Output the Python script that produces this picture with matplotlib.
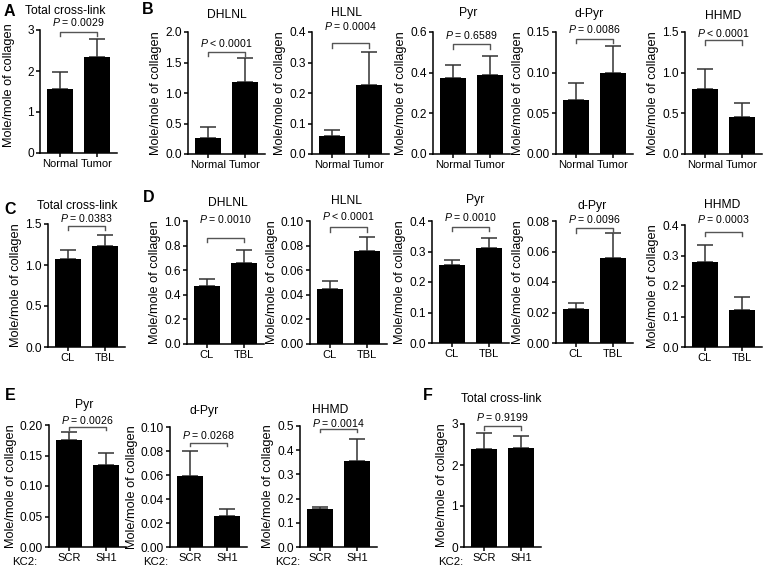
import numpy as np
import matplotlib
matplotlib.use("Agg")
import matplotlib.pyplot as plt
import matplotlib.transforms as mtransforms
from matplotlib.ticker import FixedLocator, FormatStrFormatter

plt.rcParams['font.family'] = ['Liberation Sans', 'DejaVu Sans']
plt.rcParams['mathtext.fontset'] = 'custom'
plt.rcParams['mathtext.it'] = 'Liberation Sans:italic'
plt.rcParams['mathtext.rm'] = 'Liberation Sans'

# ---------------- data ----------------
tumor_groups = ["Normal", "Tumor"]
tbl_groups = ["CL", "TBL"]
kc2_groups = ["SCR", "SH1"]

# Panel A: total cross-link (normal vs tumor)
a_total_mean = [1.55, 2.35]
a_total_err = [0.42, 0.42]
a_ticks = [0, 1, 2, 3]

# Panel B (normal vs tumor)
b_dhlnl_mean = [0.26, 1.18]
b_dhlnl_err = [0.19, 0.40]
b_dhlnl_ticks = [0.0, 0.5, 1.0, 1.5, 2.0]
b_hlnl_mean = [0.060, 0.225]
b_hlnl_err = [0.018, 0.110]
b_hlnl_ticks = [0.0, 0.1, 0.2, 0.3, 0.4]
b_pyr_mean = [0.375, 0.390]
b_pyr_err = [0.065, 0.090]
b_pyr_ticks = [0.0, 0.2, 0.4, 0.6]
b_dpyr_mean = [0.066, 0.100]
b_dpyr_err = [0.021, 0.033]
b_dpyr_ticks = [0.00, 0.05, 0.10, 0.15]
b_hhmd_mean = [0.80, 0.46]
b_hhmd_err = [0.24, 0.17]
b_hhmd_ticks = [0.0, 0.5, 1.0, 1.5]

# Panel C: total cross-link (CL vs TBL)
c_total_mean = [1.07, 1.23]
c_total_err = [0.11, 0.14]
c_ticks = [0.0, 0.5, 1.0, 1.5]

# Panel D (CL vs TBL)
d_dhlnl_mean = [0.47, 0.66]
d_dhlnl_err = [0.06, 0.105]
d_dhlnl_ticks = [0.0, 0.2, 0.4, 0.6, 0.8, 1.0]
d_hlnl_mean = [0.045, 0.0755]
d_hlnl_err = [0.006, 0.0115]
d_hlnl_ticks = [0.00, 0.02, 0.04, 0.06, 0.08, 0.10]
d_pyr_mean = [0.255, 0.310]
d_pyr_err = [0.017, 0.035]
d_pyr_ticks = [0.0, 0.1, 0.2, 0.3, 0.4]
d_dpyr_mean = [0.022, 0.056]
d_dpyr_err = [0.004, 0.016]
d_dpyr_ticks = [0.00, 0.02, 0.04, 0.06, 0.08]
d_hhmd_mean = [0.278, 0.122]
d_hhmd_err = [0.057, 0.043]
d_hhmd_ticks = [0.0, 0.1, 0.2, 0.3, 0.4]

# Panel E (KC2: SCR vs SH1)
e_pyr_mean = [0.175, 0.135]
e_pyr_err = [0.013, 0.019]
e_pyr_ticks = [0.00, 0.05, 0.10, 0.15, 0.20]
e_dpyr_mean = [0.059, 0.026]
e_dpyr_err = [0.021, 0.006]
e_dpyr_ticks = [0.00, 0.02, 0.04, 0.06, 0.08, 0.10]
e_hhmd_mean = [0.155, 0.355]
e_hhmd_err = [0.010, 0.092]
e_hhmd_ticks = [0.0, 0.1, 0.2, 0.3, 0.4, 0.5]

# Panel F: total cross-link (KC2: SCR vs SH1)
f_total_mean = [2.40, 2.42]
f_total_err = [0.38, 0.28]
f_ticks = [0, 1, 2, 3]

# ---------------- layout (pixels) ----------------
W, H = 767, 570
AX_W = 77
fig = plt.figure(figsize=(W / 100, H / 100), dpi=100)

panels = [
    dict(l=40, t=30, b=153, cats=tumor_groups, m=a_total_mean, e=a_total_err, ticks=a_ticks, fmt='%d',
         title='Total cross-link', tp=(65, 11), p='$P$ = 0.0029', py=22, by=32, ly=36, ylc=(-25, 0.55)),
    dict(l=188, t=32, b=154, cats=tumor_groups, m=b_dhlnl_mean, e=b_dhlnl_err, ticks=b_dhlnl_ticks, fmt='%.1f',
         title='DHLNL', tp=(227, 15), p='$P$ < 0.0001', py=43, by=52, ly=56),
    dict(l=312, t=32, b=154, cats=tumor_groups, m=b_hlnl_mean, e=b_hlnl_err, ticks=b_hlnl_ticks, fmt='%.1f',
         title='HLNL', tp=(347, 13), p='$P$ = 0.0004', py=26, by=43, ly=48),
    dict(l=433, t=32, b=154, cats=tumor_groups, m=b_pyr_mean, e=b_pyr_err, ticks=b_pyr_ticks, fmt='%.1f',
         title='Pyr', tp=(468, 13), p='$P$ = 0.6589', py=35, by=44, ly=49),
    dict(l=556, t=32, b=154, cats=tumor_groups, m=b_dpyr_mean, e=b_dpyr_err, ticks=b_dpyr_ticks, fmt='%.2f',
         title='d-Pyr', tp=(589, 14), p='$P$ = 0.0086', py=29, by=39, ly=43),
    dict(l=685, t=32, b=154, cats=tumor_groups, m=b_hhmd_mean, e=b_hhmd_err, ticks=b_hhmd_ticks, fmt='%.1f',
         title='HHMD', tp=(723, 16), p='$P$ < 0.0001', py=33, by=40, ly=45),

    dict(l=48, t=224, b=347, cats=tbl_groups, m=c_total_mean, e=c_total_err, ticks=c_ticks, fmt='%.1f',
         title='Total cross-link', tp=(77, 206), p='$P$ = 0.0383', py=218, by=226, ly=230),
    dict(l=187, t=221, b=344, cats=tbl_groups, m=d_dhlnl_mean, e=d_dhlnl_err, ticks=d_dhlnl_ticks, fmt='%.1f',
         title='DHLNL', tp=(228, 203), p='$P$ = 0.0010', py=219, by=238, ly=242),
    dict(l=310, t=221, b=344, cats=tbl_groups, m=d_hlnl_mean, e=d_hlnl_err, ticks=d_hlnl_ticks, fmt='%.2f',
         title='HLNL', tp=(347, 201), p='$P$ < 0.0001', py=216, by=227, ly=232),
    dict(l=432, t=221, b=343, cats=tbl_groups, m=d_pyr_mean, e=d_pyr_err, ticks=d_pyr_ticks, fmt='%.1f',
         title='Pyr', tp=(475, 200), p='$P$ = 0.0010', py=217, by=227, ly=231),
    dict(l=556, t=221, b=343, cats=tbl_groups, m=d_dpyr_mean, e=d_dpyr_err, ticks=d_dpyr_ticks, fmt='%.2f',
         title='d-Pyr', tp=(592, 206), p='$P$ = 0.0096', py=219, by=228, ly=233),
    dict(l=685, t=225, b=347, cats=tbl_groups, m=d_hhmd_mean, e=d_hhmd_err, ticks=d_hhmd_ticks, fmt='%.1f',
         title='HHMD', tp=(722, 205), p='$P$ = 0.0003', py=219, by=232, ly=236),

    dict(l=49, t=425, b=547, cats=kc2_groups, m=e_pyr_mean, e=e_pyr_err, ticks=e_pyr_ticks, fmt='%.2f',
         title='Pyr', tp=(84, 405), p='$P$ = 0.0026', py=420, by=427, ly=430, kc=37),
    dict(l=170, t=427, b=547, cats=kc2_groups, m=e_dpyr_mean, e=e_dpyr_err, ticks=e_dpyr_ticks, fmt='%.2f',
         title='d-Pyr', tp=(204, 411), p='$P$ = 0.0268', py=435, by=443, ly=446, kc=168),
    dict(l=300, t=426, b=547, cats=kc2_groups, m=e_hhmd_mean, e=e_hhmd_err, ticks=e_hhmd_ticks, fmt='%.1f',
         title='HHMD', tp=(330, 410), p='$P$ = 0.0014', py=423, by=429, ly=432, kc=300),
    dict(l=464, t=424, b=547, cats=kc2_groups, m=f_total_mean, e=f_total_err, ticks=f_ticks, fmt='%d',
         title='Total cross-link', tp=(501, 399), p='$P$ = 0.9199', py=417, by=426, ly=430, kc=463),
]

letters = [('A', 9, 12), ('B', 148, 9), ('C', 10, 210), ('D', 149, 198), ('E', 10, 395), ('F', 428, 395)]


def fy(ypx):
    return 1 - ypx / H


for sp in panels:
    ax = fig.add_axes([sp['l'] / W, fy(sp['b']), AX_W / W, (sp['b'] - sp['t']) / H])
    x = np.arange(len(sp['cats']))
    ax.bar(x, sp['m'], width=0.7, color='black', zorder=3)
    ax.errorbar(x, sp['m'], yerr=[np.zeros(len(x)), sp['e']], fmt='none', ecolor='#333333',
                elinewidth=1.1, capsize=5.5, capthick=1.1, zorder=2)
    ax.set_xlim(-0.54, 1.54)
    ax.set_ylim(sp['ticks'][0], sp['ticks'][-1])
    for s in ('top', 'right'):
        ax.spines[s].set_visible(False)
    for s in ('left', 'bottom'):
        ax.spines[s].set_linewidth(1.1)
    ax.set_xticks(x)
    ax.set_xticklabels(sp['cats'])
    ax.yaxis.set_major_locator(FixedLocator(sp['ticks']))
    ax.yaxis.set_major_formatter(FormatStrFormatter(sp['fmt']))
    ax.tick_params(direction='out', length=3, width=1.1, pad=1.5)
    ax.tick_params(axis='y', labelsize=8.6)
    ax.tick_params(axis='x', labelsize=8.0)
    ax.set_ylabel('Mole/mole of collagen', fontsize=9.2, labelpad=2)
    if 'ylc' in sp:
        ax.yaxis.set_label_coords(sp['ylc'][0] / AX_W, sp['ylc'][1])

    tr = mtransforms.blended_transform_factory(ax.transData, fig.transFigure)
    ax.plot([0, 0, 1, 1], [fy(sp['ly']), fy(sp['by']), fy(sp['by']), fy(sp['ly'])],
            transform=tr, color='#555555', lw=1.0, clip_on=False)
    ax.text(0.5, fy(sp['py']), sp['p'], transform=tr, ha='center', va='center', fontsize=7.6)
    fig.text(sp['tp'][0] / W, fy(sp['tp'][1]), sp['title'], ha='center', va='center', fontsize=8.7)
    if 'kc' in sp:
        fig.text(sp['kc'] / W, fy(562), 'KC2:', ha='right', va='center', fontsize=8.2)

for s, xp, yp in letters:
    fig.text(xp / W, fy(yp), s, ha='center', va='center', fontsize=11.5, fontweight='bold')

fig.savefig('out.png', dpi=100)
